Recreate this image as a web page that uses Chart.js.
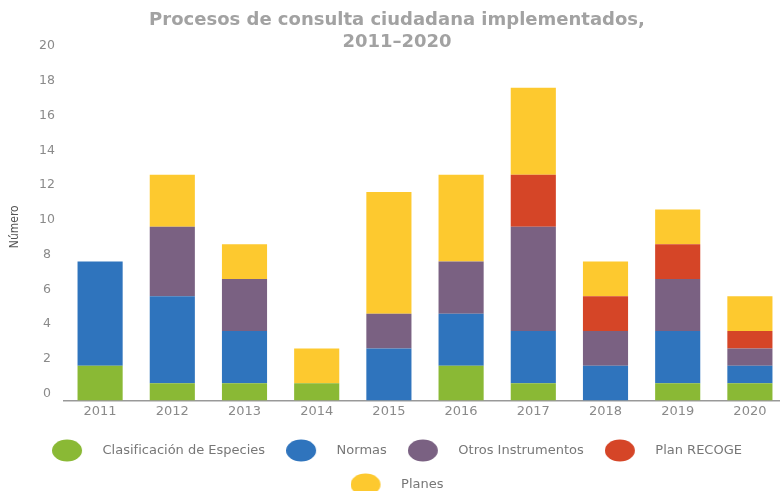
<!DOCTYPE html>
<html lang="es">
<head>
<meta charset="utf-8">
<title>Procesos de consulta ciudadana implementados, 2011–2020</title>
<script src="https://cdn.jsdelivr.net/npm/chart.js@4.4.1/dist/chart.umd.min.js"></script>
<style>
    html, body { margin: 0; padding: 0; background: #fff; overflow: hidden; }
    #wrap { position: relative; width: 786px; height: 501px; }
</style>
</head>
<body>
<div id="wrap"><canvas id="chart"></canvas></div>
<script>
// Datos
const years = ['2011', '2012', '2013', '2014', '2015', '2016', '2017', '2018', '2019', '2020'];
const clasificacion = [2, 1, 1, 1, 0, 2, 1, 0, 1, 1];
const normas        = [6, 5, 3, 0, 3, 3, 3, 2, 3, 1];
const otros         = [0, 4, 3, 0, 2, 3, 6, 2, 3, 1];
const recoge        = [0, 0, 0, 0, 0, 0, 3, 2, 2, 1];
const planes        = [0, 3, 2, 2, 7, 5, 5, 2, 2, 2];

const seriesNames = ['Clasificación de Especies', 'Normas', 'Otros Instrumentos', 'Plan RECOGE', 'Planes'];
const seriesColors = ['#8ab935', '#2f74bd', '#7a6182', '#d54527', '#fdc92f'];

const yTicks = { min: 0, max: 20, step: 2 };

// marcador de leyenda: elipse + espacio libre a la derecha
function legendDot(color) {
    const c = document.createElement('canvas');
    c.width = 44; c.height = 23;
    const g = c.getContext('2d');
    g.fillStyle = color;
    g.beginPath();
    g.ellipse(15, 11.5, 15, 11, 0, 0, Math.PI * 2);
    g.fill();
    return c;
}

const series = [clasificacion, normas, otros, recoge, planes];
const datasets = series.map((d, i) => ({
    label: seriesNames[i],
    data: d,
    backgroundColor: seriesColors[i],
    borderWidth: 0,
    pointStyle: legendDot(seriesColors[i]),
    categoryPercentage: 0.625,
    barPercentage: 1
}));

const gray = '#8a8a8a';
const sans = "'DejaVu Sans', sans-serif";

new Chart(document.getElementById('chart'), {
    type: 'bar',
    data: { labels: years, datasets: datasets },
    options: {
        responsive: true,
        maintainAspectRatio: false,
        animation: false,
        layout: { padding: { left: 8, right: 0, top: 0, bottom: 0 } },
        plugins: {
            title: {
                display: true,
                text: ['Procesos de consulta ciudadana implementados,', '2011–2020'],
                color: '#a2a2a2',
                font: { family: sans, size: 18, weight: 'bold', lineHeight: '22px' },
                padding: { top: 9, bottom: 0 }
            },
            legend: {
                position: 'bottom',
                labels: {
                    usePointStyle: true,
                    pointStyleWidth: 44,
                    padding: 21,
                    color: '#777',
                    font: { family: sans, size: 13 }
                }
            },
            tooltip: { enabled: false }
        },
        scales: {
            x: {
                stacked: true,
                grid: { display: false, drawTicks: false },
                border: { display: true, color: '#999', width: 1.5 },
                ticks: { color: gray, padding: 3, font: { family: sans, size: 13 } },
                afterFit(scale) { scale.height = 22.5; }
            },
            y: {
                stacked: true,
                min: yTicks.min,
                max: yTicks.max,
                grid: { display: false, drawTicks: false },
                border: { display: false },
                ticks: {
                    stepSize: yTicks.step,
                    color: gray,
                    crossAlign: 'center',
                    padding: 9,
                    labelOffset: -7,
                    font: { family: sans, size: 12.5 }
                },
                title: {
                    display: true,
                    text: 'Número',
                    color: '#555',
                    padding: { top: 0, bottom: 0 },
                    font: { family: "'DejaVu Sans Condensed', 'Liberation Sans Narrow', sans-serif", size: 12 }
                },
                afterFit(scale) { scale.width = 56; }
            }
        }
    }
});
</script>
</body>
</html>
